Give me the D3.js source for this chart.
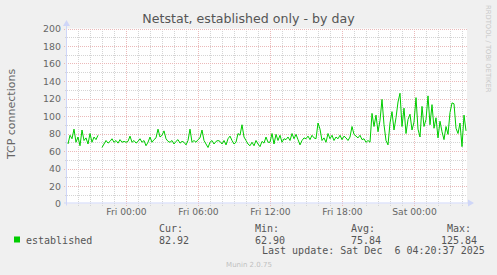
<!DOCTYPE html>
<html>
<head>
<meta charset="utf-8">
<script src="https://cdn.jsdelivr.net/npm/d3@7"></script>
<style>
  html, body { margin: 0; padding: 0; background: #f0f0f0; }
  svg { display: block; }
</style>
</head>
<body>
<div id="chart"></div>
<script>
// 10-minute samples from Thu 19:05 to Sat 04:25 (null = gap)
const established = [
  68, 78, 74, 85, 70, 76, 66, 84, 72, 75, 68, 80, 70, 76, 73, 78,
  null,
  64, 68, 72, 69, 71, 74, 70, 72, 69, 73, 70, 71, 70,
  71, 77, 70, 72, 69, 71, 74, 70, 72, 66, 70, 76, 70, 73, 75,
  85, 76, 78, 83, 74, 71,
  70, 72, 68, 71, 73, 69, 71, 70, 67, 72, 85, 70, 72, 70, 73, 75, 84, 72, 68, 64, 70, 72, 68, 71, 72,
  71, 68, 72, 67, 74, 77, 72, 68, 70, 80, 78, 90, 76, 72, 68, 66, 70, 66, 72, 68, 65, 71, 69, 76, 70,
  70, 80, 68, 79, 72, 78, 70, 74, 73, 76, 72, 80, 74, 79, 73, 67, 72, 75, 74, 77, 73, 78, 75, 74, 92,
  85, 72, 75, 70, 80, 74, 78, 72, 76, 74, 78, 73, 77, 75, 72, 76, 88, 79, 77, 75, 78, 73, 74, 70, 72,
  70, 103, 88, 101, 82, 95, 119, 90, 72, 67, 92, 105, 84, 98, 116, 126, 88, 109, 80, 96,
  102, 84, 93, 121, 85, 76, 111, 88, 96, 123, 90, 113, 86, 98, 75, 94, 82, 73, 88, 79,
  104, 115, 114, 86, 80, 92, 65, 101, 83
]
const startTime = Date.UTC(2025, 11, 4, 19, 5)
const endTime = Date.UTC(2025, 11, 6, 4, 25)
const yTicks = [0, 20, 40, 60, 80, 100, 120, 140, 160, 180, 200]

const legendHeads = ['Cur:', 'Min:', 'Avg:', 'Max:']
const legendValues = ['82.92', '62.90', '75.84', '125.84']

const width = 497, height = 275
const plot = { left: 67, right: 467, top: 28.5, bottom: 203.5 }

const svg = d3.select('#chart').append('svg')
  .attr('width', width)
  .attr('height', height)
  .style('background-color', '#f0f0f0')

const x = d3.scaleUtc().domain([startTime, endTime]).range([plot.left, plot.right])
const y = d3.scaleLinear().domain([0, 200]).range([plot.bottom, plot.top])

const data = established.map((v, i) => ({ t: startTime + (10 * i + 5) * 60000, v }))

svg.append('rect')
  .attr('x', plot.left).attr('y', plot.top)
  .attr('width', plot.right - plot.left).attr('height', plot.bottom - plot.top)
  .attr('fill', '#ffffff')

// grid
const minorY = d3.range(10, 201, 20)
const minorX = x.ticks(d3.utcHour.every(1)).filter(d => d.getUTCHours() % 6 !== 0)
const majorX = x.ticks(d3.utcHour.every(6))
const minorColor = '#d4d4d4'
const majorColor = '#ebb9b9'

const grid = svg.append('g').attr('shape-rendering', 'crispEdges')
grid.selectAll('.minor-y').data(minorY).enter().append('line')
  .attr('x1', plot.left - 2).attr('x2', plot.right)
  .attr('y1', d => Math.round(y(d)) + 0.5).attr('y2', d => Math.round(y(d)) + 0.5)
  .attr('stroke', minorColor).attr('stroke-dasharray', '1,1')
grid.selectAll('.minor-x').data(minorX).enter().append('line')
  .attr('x1', d => Math.round(x(d)) + 0.5).attr('x2', d => Math.round(x(d)) + 0.5)
  .attr('y1', plot.top).attr('y2', plot.bottom + 2)
  .attr('stroke', minorColor).attr('stroke-dasharray', '1,1')
grid.selectAll('.major-y').data(yTicks.slice(1)).enter().append('line')
  .attr('x1', plot.left - 3).attr('x2', plot.right)
  .attr('y1', d => Math.round(y(d)) + 0.5).attr('y2', d => Math.round(y(d)) + 0.5)
  .attr('stroke', majorColor).attr('stroke-dasharray', '1,1')
grid.selectAll('.major-x').data(majorX).enter().append('line')
  .attr('x1', d => Math.round(x(d)) + 0.5).attr('x2', d => Math.round(x(d)) + 0.5)
  .attr('y1', plot.top).attr('y2', plot.bottom + 3)
  .attr('stroke', majorColor).attr('stroke-dasharray', '1,1')

// data line
const line = d3.line()
  .defined(d => d.v != null)
  .x(d => x(d.t))
  .y(d => y(d.v))
svg.append('path')
  .datum(data)
  .attr('d', line)
  .attr('fill', 'none')
  .attr('stroke', '#00cc00')
  .attr('stroke-width', 1)

// axes with arrows
const axisColor = '#cfd6f8'
svg.append('line')
  .attr('x1', plot.left - 0.5).attr('x2', plot.left - 0.5)
  .attr('y1', plot.bottom + 2).attr('y2', 24)
  .attr('stroke', axisColor)
svg.append('path')
  .attr('d', `M${plot.left - 4},26 L${plot.left - 0.5},20 L${plot.left + 3},26 Z`)
  .attr('fill', axisColor)
svg.append('line')
  .attr('x1', plot.left - 3).attr('x2', plot.right + 3)
  .attr('y1', plot.bottom - 0.5).attr('y2', plot.bottom - 0.5)
  .attr('stroke', axisColor)
svg.append('path')
  .attr('d', `M${plot.right + 1},${plot.bottom - 4} L${plot.right + 7},${plot.bottom - 0.5} L${plot.right + 1},${plot.bottom + 3} Z`)
  .attr('fill', axisColor)

// tick labels
const tickFont = 'DejaVu Sans, sans-serif'
const yAxis = d3.axisLeft(y).tickValues(yTicks).tickSize(0).tickPadding(0)
svg.append('g')
  .attr('transform', `translate(${plot.left - 6},0)`)
  .call(yAxis)
  .call(g => g.select('.domain').remove())
  .call(g => g.selectAll('text')
    .attr('font-family', tickFont).attr('font-size', '9.4px').attr('fill', '#666'))

const xAxis = d3.axisBottom(x).tickValues(majorX).tickSize(0).tickPadding(0)
  .tickFormat(d3.utcFormat('%a %H:%M'))
svg.append('g')
  .attr('transform', `translate(0,${plot.bottom + 5})`)
  .call(xAxis)
  .call(g => g.select('.domain').remove())
  .call(g => g.selectAll('text')
    .attr('font-family', tickFont).attr('font-size', '9.2px').attr('fill', '#666'))

// titles
svg.append('text')
  .attr('x', 248.5).attr('y', 23)
  .attr('text-anchor', 'middle')
  .attr('font-family', tickFont).attr('font-size', '12.6px').attr('fill', '#555')
  .text('Netstat, established only - by day')

svg.append('text')
  .attr('transform', 'translate(15,114) rotate(-90)')
  .attr('text-anchor', 'middle')
  .attr('font-family', tickFont).attr('font-size', '11px').attr('fill', '#666')
  .text('TCP connections')

svg.append('text')
  .attr('transform', 'translate(486,5) rotate(90)')
  .attr('font-family', tickFont).attr('font-size', '6.8px').attr('fill', '#c8c8c8')
  .text('RRDTOOL / TOBI OETIKER')

// legend
const mono = 'DejaVu Sans Mono, monospace'
svg.append('rect')
  .attr('x', 14).attr('y', 236.5).attr('width', 6).attr('height', 6)
  .attr('fill', '#00cc00')
svg.append('text')
  .attr('x', 26).attr('y', 243.5)
  .attr('font-family', mono).attr('font-size', '10px').attr('fill', '#555')
  .text('established')

const legendX = [159, 255, 351, 447]
const valueX = [159, 255, 351, 441]
svg.selectAll('.lhead').data(legendHeads).enter().append('text')
  .attr('x', (d, i) => legendX[i]).attr('y', 231.5)
  .attr('font-family', mono).attr('font-size', '10px').attr('fill', '#555')
  .text(d => d)
svg.selectAll('.lval').data(legendValues).enter().append('text')
  .attr('x', (d, i) => valueX[i]).attr('y', 243.5)
  .attr('font-family', mono).attr('font-size', '10px').attr('fill', '#555')
  .text(d => d)

svg.append('text')
  .attr('x', 262).attr('y', 254)
  .attr('font-family', mono).attr('font-size', '10px').attr('fill', '#555')
  .attr('xml:space', 'preserve').style('white-space', 'pre')
  .text('Last update: Sat Dec  6 04:20:37 2025')

svg.append('text')
  .attr('x', 249).attr('y', 266.5)
  .attr('text-anchor', 'middle')
  .attr('font-family', tickFont).attr('font-size', '7px').attr('fill', '#c0c0c0')
  .text('Munin 2.0.75')
</script>
</body>
</html>
